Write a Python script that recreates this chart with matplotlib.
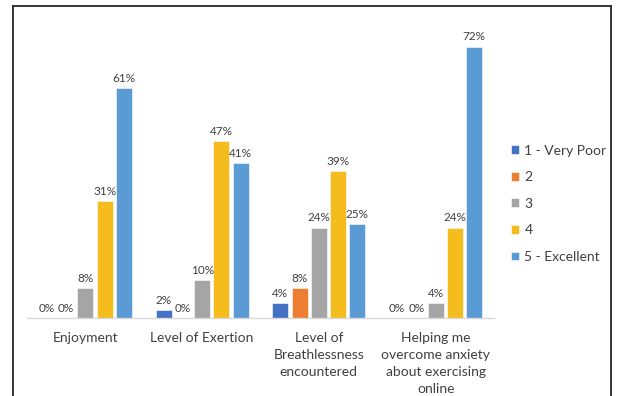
import numpy as np
import matplotlib
matplotlib.use("Agg")
import matplotlib.pyplot as plt
from matplotlib.lines import Line2D

categories = ["Enjoyment", "Level of Exertion", "Level of\nBreathlessness\nencountered",
              "Helping me\novercome anxiety\nabout exercising\nonline"]
series_names = ["1 - Very Poor", "2", "3", "4", "5 - Excellent"]
very_poor = [0, 2, 4, 0]
two = [0, 0, 8, 0]
three = [8, 10, 24, 4]
four = [31, 47, 39, 24]
excellent = [61, 41, 25, 72]
colors = ["#4472C4", "#ED7D31", "#A5A5A5", "#F4BC1C", "#5B9BD5"]

plt.rcParams['font.family'] = ['Lato', 'DejaVu Sans']

fig = plt.figure(figsize=(6.19, 3.96), dpi=100)
# axes in pixel coords: left 27, right 494, baseline at y=318
W, H = 619, 396
ax = fig.add_axes([27 / W, (H - 318) / H, 467 / W, 301.6 / H])

x = np.arange(len(categories))
step = 0.165
width = 0.137
all_series = [very_poor, two, three, four, excellent]
for i, (vals, name, c) in enumerate(zip(all_series, series_names, colors)):
    pos = x + (i - 2) * step
    bars = ax.bar(pos, vals, width, color=c, label=name, edgecolor="white", linewidth=0.4)
    for xp, v in zip(pos, vals):
        ax.annotate(f"{v}%", (xp, v), xytext=(0, 3), textcoords="offset points",
                    ha="center", va="bottom", fontsize=8.5, color="#404040")

ax.set_xlim(-0.5, 3.5)
ax.set_ylim(0, 80)
ax.set_yticks([])
ax.set_xticks(x)
ax.set_xticklabels(categories, fontsize=10, color="#404040", linespacing=1.5)
ax.tick_params(axis="x", length=0, pad=10)
for s in ["top", "right", "left"]:
    ax.spines[s].set_visible(False)
ax.spines["bottom"].set_color("#D9D9D9")
ax.spines["bottom"].set_linewidth(1)

ax.legend(loc="upper left", bbox_to_anchor=(478 / 467, (318 - 139) / 301.6),
          frameon=False, fontsize=10, labelcolor="#404040", handlelength=0.6,
          handleheight=0.6, handletextpad=0.4, labelspacing=1.05, borderaxespad=0)

# outer frame (bottom edge is cut off in the reference)
fx0, fx1, fy1 = 13 / W, 611 / W, 1 - 6 / H
for xs, ys in [([fx0, fx0], [0, fy1]), ([fx1, fx1], [0, fy1]), ([fx0, fx1], [fy1, fy1])]:
    fig.add_artist(Line2D(xs, ys, color="#262626", linewidth=1.3, transform=fig.transFigure))

fig.savefig("out.png", dpi=100)
